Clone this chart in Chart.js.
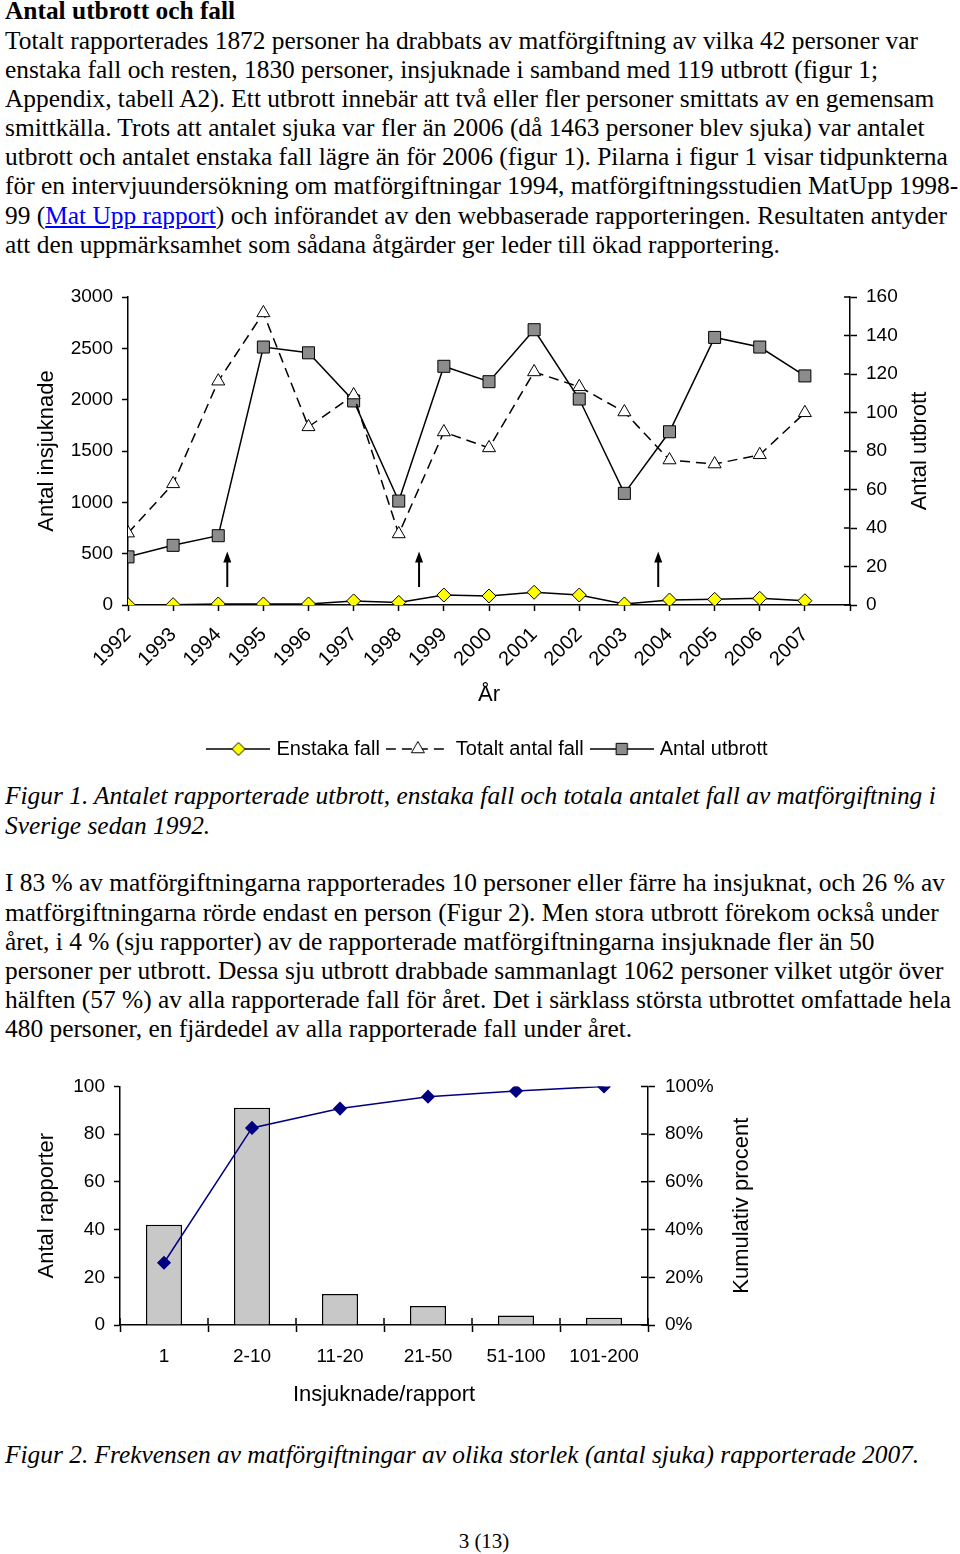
<!DOCTYPE html>
<html lang="sv">
<head>
<meta charset="UTF-8">
<title>Antal utbrott och fall</title>
<script src="https://cdn.jsdelivr.net/npm/chart.js"></script>
<style>
    body {
        margin: 0;
        width: 960px;
        height: 1554px;
        position: relative;
        overflow: hidden;
        background: #fff;
        color: #000;
        font-family: "Liberation Serif", "Times New Roman", serif;
    }
    .txt {
        position: absolute;
        left: 5px;
        font-size: 25.4px;
        line-height: 29.15px;
        white-space: nowrap;
    }
    .txt b { font-weight: bold; }
    .cap { font-style: italic; }
    .txt a { color: #0000ff; text-decoration: underline; }
    .fig { position: absolute; left: 0; }
    .pagenum {
        position: absolute;
        left: 0;
        width: 968px;
        text-align: center;
        font-size: 21px;
        line-height: 24px;
    }
</style>
</head>
<body>

<div class="txt" style="top:-3.6px">
<b>Antal utbrott och fall</b><br>
Totalt rapporterades 1872 personer ha drabbats av matförgiftning av vilka 42 personer var<br>
enstaka fall och resten, 1830 personer, insjuknade i samband med 119 utbrott (figur 1;<br>
Appendix, tabell A2). Ett utbrott innebär att två eller fler personer smittats av en gemensam<br>
smittkälla. Trots att antalet sjuka var fler än 2006 (då 1463 personer blev sjuka) var antalet<br>
utbrott och antalet enstaka fall lägre än för 2006 (figur 1). Pilarna i figur 1 visar tidpunkterna<br>
för en intervjuundersökning om matförgiftningar 1994, matförgiftningsstudien MatUpp 1998-<br>
99 (<a href="#">Mat Upp rapport</a>) och införandet av den webbaserade rapporteringen. Resultaten antyder<br>
att den uppmärksamhet som sådana åtgärder ger leder till ökad rapportering.
</div>

<div class="fig" style="top:270px">
    <canvas id="chart1" width="960" height="499"></canvas>
</div>

<div class="txt cap" style="top:781.4px">
Figur 1. Antalet rapporterade utbrott, enstaka fall och totala antalet fall av matförgiftning i<br>
Sverige sedan 1992.
</div>

<div class="txt" style="top:868.4px; line-height:29.2px">
I 83 % av matförgiftningarna rapporterades 10 personer eller färre ha insjuknat, och 26 % av<br>
matförgiftningarna rörde endast en person (Figur 2). Men stora utbrott förekom också under<br>
året, i 4 % (sju rapporter) av de rapporterade matförgiftningarna insjuknade fler än 50<br>
personer per utbrott. Dessa sju utbrott drabbade sammanlagt 1062 personer vilket utgör över<br>
hälften (57 %) av alla rapporterade fall för året. Det i särklass största utbrottet omfattade hela<br>
480 personer, en fjärdedel av alla rapporterade fall under året.
</div>

<div class="fig" style="top:1065px">
    <canvas id="chart2" width="770" height="350"></canvas>
</div>

<div class="txt cap" style="top:1440.4px">
Figur 2. Frekvensen av matförgiftningar av olika storlek (antal sjuka) rapporterade 2007.
</div>

<div class="pagenum" style="top:1529px">3 (13)</div>

<script>
// ---- Figur 1 data ----
const years = [1992, 1993, 1994, 1995, 1996, 1997, 1998, 1999, 2000, 2001, 2002, 2003, 2004, 2005, 2006, 2007];
const enstakaFall = [3, 3, 10, 10, 10, 40, 25, 97, 88, 124, 97, 10, 49, 55, 65, 42];
const totaltAntalFall = [700, 1180, 2180, 2845, 1735, 2045, 692, 1685, 1530, 2270, 2125, 1880, 1412, 1373, 1463, 1872];
const antalUtbrott = [25, 31, 36, 134, 131, 106, 54, 124, 116, 143, 107, 58, 90, 139, 134, 119];
// arrows: intervjuundersökning 1994, MatUpp 1998-99, webbrapportering
const arrowYears = [1994.2, 1998.45, 2003.75];
const arrowFrom = 175;
const arrowTo = 520;

// ---- Figur 2 data ----
const sizeLabels = ['1', '2-10', '11-20', '21-50', '51-100', '101-200'];
const antalRapporter = [42, 91, 13, 8, 4, 3];
const kumulativProcent = [26.1, 82.6, 90.7, 95.7, 98.1, 100];

const FONT = '"Liberation Sans", Arial, sans-serif';
const axisBorder = { color: '#000', width: 1.5 };

function tickFont(size) { return { family: FONT, size: size }; }

function pts(arr) {
    return years.map((yr, i) => ({ x: yr, y: arr[i] }));
}

// small legend icons: line + marker
function makeIcon(style, fill, radius, dash) {
    const c = document.createElement('canvas');
    c.width = 64;
    c.height = 20;
    const g = c.getContext('2d');
    g.strokeStyle = '#000';
    g.lineWidth = 1.5;
    g.setLineDash(dash);
    g.beginPath();
    g.moveTo(0, 10);
    g.lineTo(64, 10);
    g.stroke();
    g.setLineDash([]);
    g.lineWidth = 1;
    g.fillStyle = fill;
    Chart.helpers.drawPoint(g, { pointStyle: style, radius: radius, borderWidth: 1, rotation: 0 }, 32, 10);
    return c;
}

// ticks that also reach into the plot area
function innerTicks(spec) {
    return {
        id: 'innerTicks',
        afterDraw(chart) {
            const ctx = chart.ctx;
            ctx.save();
            ctx.strokeStyle = '#000';
            ctx.lineWidth = 1.5;
            ctx.beginPath();
            Object.keys(spec).forEach(id => {
                const s = chart.scales[id];
                const len = spec[id];
                if (s.isHorizontal()) {
                    const n = s.getLabels().length;
                    for (let i = 0; i <= n; i++) {
                        const px = s.getPixelForValue(i - 0.5);
                        ctx.moveTo(px, s.top);
                        ctx.lineTo(px, s.top - len);
                    }
                } else {
                    const right = s.position === 'right';
                    const x0 = right ? s.left : s.right;
                    s.ticks.forEach(t => {
                        const py = s.getPixelForValue(t.value);
                        ctx.moveTo(x0, py);
                        ctx.lineTo(x0 + (right ? -len : len), py);
                    });
                }
            });
            ctx.stroke();
            ctx.restore();
        }
    };
}

// right axis title reading bottom-to-top, like the left one
function rightTitle(text, fromRight) {
    return {
        id: 'rightTitle',
        afterDraw(chart) {
            const { ctx, chartArea } = chart;
            ctx.save();
            ctx.translate(chart.width - fromRight, (chartArea.top + chartArea.bottom) / 2);
            ctx.rotate(-Math.PI / 2);
            ctx.fillStyle = '#000';
            ctx.font = '22px ' + FONT;
            ctx.textAlign = 'center';
            ctx.textBaseline = 'middle';
            ctx.fillText(text, 0, 0);
            ctx.restore();
        }
    };
}

const arrowPlugin = {
    id: 'arrows',
    afterDatasetsDraw(chart) {
        const { ctx, scales: { x, y } } = chart;
        ctx.save();
        ctx.strokeStyle = '#000';
        ctx.fillStyle = '#000';
        ctx.lineWidth = 2;
        arrowYears.forEach(yr => {
            const px = x.getPixelForValue(yr);
            const y0 = y.getPixelForValue(arrowFrom);
            const y1 = y.getPixelForValue(arrowTo);
            ctx.beginPath();
            ctx.moveTo(px, y0);
            ctx.lineTo(px, y1 + 6);
            ctx.stroke();
            ctx.beginPath();
            ctx.moveTo(px, y1);
            ctx.lineTo(px - 4, y1 + 11);
            ctx.lineTo(px + 4, y1 + 11);
            ctx.closePath();
            ctx.fill();
        });
        ctx.restore();
    }
};

const legendIcons = [
    makeIcon('rectRot', '#ffff00', 6.5, []),
    makeIcon('triangle', '#ffffff', 7.5, [10, 6]),
    makeIcon('rect', '#8c8c8c', 8, [])
];

new Chart(document.getElementById('chart1'), {
    type: 'line',
    data: {
        datasets: [
            {
                label: 'Enstaka fall',
                data: pts(enstakaFall),
                yAxisID: 'y',
                borderColor: '#000',
                borderWidth: 1.5,
                pointStyle: 'rectRot',
                pointRadius: 7,
                pointBackgroundColor: '#ffff00',
                pointBorderColor: '#000',
                pointBorderWidth: 1
            },
            {
                label: 'Totalt antal fall',
                data: pts(totaltAntalFall),
                yAxisID: 'y',
                borderColor: '#000',
                borderWidth: 1.5,
                borderDash: [10, 6],
                pointStyle: 'triangle',
                pointRadius: 7.5,
                pointBackgroundColor: '#fff',
                pointBorderColor: '#000',
                pointBorderWidth: 1
            },
            {
                label: 'Antal utbrott',
                data: pts(antalUtbrott),
                yAxisID: 'y1',
                borderColor: '#000',
                borderWidth: 1.5,
                pointStyle: 'rect',
                pointRadius: 8.5,
                pointBackgroundColor: '#8c8c8c',
                pointBorderColor: '#000',
                pointBorderWidth: 1
            }
        ]
    },
    options: {
        responsive: false,
        animation: false,
        devicePixelRatio: 1,
        layout: { padding: { top: 27, left: 18, right: 0, bottom: 0 } },
        elements: { line: { tension: 0 } },
        scales: {
            x: {
                type: 'linear',
                min: 1992,
                max: 2008,
                border: axisBorder,
                grid: { drawOnChartArea: false, tickLength: 6, tickColor: '#000', tickWidth: 1.5 },
                ticks: {
                    stepSize: 1,
                    autoSkip: false,
                    minRotation: 45,
                    maxRotation: 45,
                    padding: 12,
                    color: '#000',
                    font: tickFont(20),
                    callback: v => (v <= 2007 ? String(v) : '')
                },
                title: {
                    display: true,
                    text: 'År',
                    color: '#000',
                    font: tickFont(22),
                    padding: { top: 0, bottom: 21 }
                },
                afterFit: s => { s.height = 124; }
            },
            y: {
                position: 'left',
                min: 0,
                max: 3000,
                border: axisBorder,
                grid: { drawOnChartArea: false, tickLength: 6, tickColor: '#000', tickWidth: 1.5 },
                ticks: { stepSize: 500, padding: 9, color: '#000', font: tickFont(19), callback: v => String(v) },
                title: {
                    display: true,
                    text: 'Antal insjuknade',
                    color: '#000',
                    font: tickFont(22),
                    padding: { top: 16, bottom: 0 }
                },
                afterFit: s => { s.width = 110; }
            },
            y1: {
                position: 'right',
                min: 0,
                max: 160,
                border: axisBorder,
                grid: { drawOnChartArea: false, tickLength: 7, tickColor: '#000', tickWidth: 1.5 },
                ticks: { stepSize: 20, padding: 9, color: '#000', font: tickFont(19), callback: v => String(v) },
                afterFit: s => { s.width = 110; }
            }
        },
        plugins: {
            tooltip: { enabled: false },
            legend: {
                position: 'bottom',
                labels: {
                    usePointStyle: true,
                    pointStyleWidth: 56,
                    padding: 10,
                    color: '#000',
                    font: tickFont(20),
                    generateLabels: chart => chart.data.datasets.map((ds, i) => ({
                        text: ds.label,
                        pointStyle: legendIcons[i],
                        datasetIndex: i,
                        hidden: false,
                        lineWidth: 0,
                        fillStyle: 'transparent',
                        strokeStyle: 'transparent',
                        fontColor: '#000'
                    }))
                }
            }
        }
    },
    plugins: [arrowPlugin, innerTicks({ y1: 6 }), rightTitle('Antal utbrott', 40)]
});

new Chart(document.getElementById('chart2'), {
    data: {
        labels: sizeLabels,
        datasets: [
            {
                type: 'line',
                label: 'Kumulativ procent',
                data: kumulativProcent,
                yAxisID: 'y1',
                order: 0,
                borderColor: '#000080',
                borderWidth: 1.5,
                tension: 0,
                pointStyle: 'rectRot',
                pointRadius: 6,
                pointBackgroundColor: '#000080',
                pointBorderColor: '#000080'
            },
            {
                type: 'bar',
                label: 'Antal rapporter',
                data: antalRapporter,
                yAxisID: 'y',
                order: 1,
                backgroundColor: '#c8c8c8',
                borderColor: '#000',
                borderWidth: 1.5,
                barPercentage: 0.41,
                categoryPercentage: 1
            }
        ]
    },
    options: {
        responsive: false,
        animation: false,
        devicePixelRatio: 1,
        layout: { padding: { top: 19, left: 0, right: 0, bottom: 0 } },
        scales: {
            x: {
                type: 'category',
                border: axisBorder,
                grid: { offset: true, drawOnChartArea: false, tickLength: 7, tickColor: '#000', tickWidth: 1.5 },
                ticks: { padding: 13, color: '#000', font: tickFont(19), maxRotation: 0 },
                title: {
                    display: true,
                    text: 'Insjuknade/rapport',
                    color: '#000',
                    font: tickFont(22),
                    padding: { top: 0, bottom: 7 }
                },
                afterFit: s => { s.height = 90; }
            },
            y: {
                position: 'left',
                min: 0,
                max: 100,
                border: axisBorder,
                grid: { drawOnChartArea: false, tickLength: 6, tickColor: '#000', tickWidth: 1.5 },
                ticks: {
                    stepSize: 10,
                    padding: 9,
                    color: '#000',
                    font: tickFont(19),
                    callback: v => (v % 20 === 0 ? String(v) : '')
                },
                title: {
                    display: true,
                    text: 'Antal rapporter',
                    color: '#000',
                    font: tickFont(22),
                    padding: { top: 34, bottom: 0 }
                },
                afterFit: s => { s.width = 120; }
            },
            y1: {
                position: 'right',
                min: 0,
                max: 100,
                border: axisBorder,
                grid: { drawOnChartArea: false, tickLength: 7, tickColor: '#000', tickWidth: 1.5 },
                ticks: {
                    stepSize: 20,
                    padding: 10,
                    color: '#000',
                    font: tickFont(19),
                    callback: v => v + '%'
                },
                afterFit: s => { s.width = 122; }
            }
        },
        plugins: {
            tooltip: { enabled: false },
            legend: { display: false }
        }
    },
    plugins: [innerTicks({ x: 7, y1: 7 }), rightTitle('Kumulativ procent', 28)]
});
</script>
</body>
</html>
